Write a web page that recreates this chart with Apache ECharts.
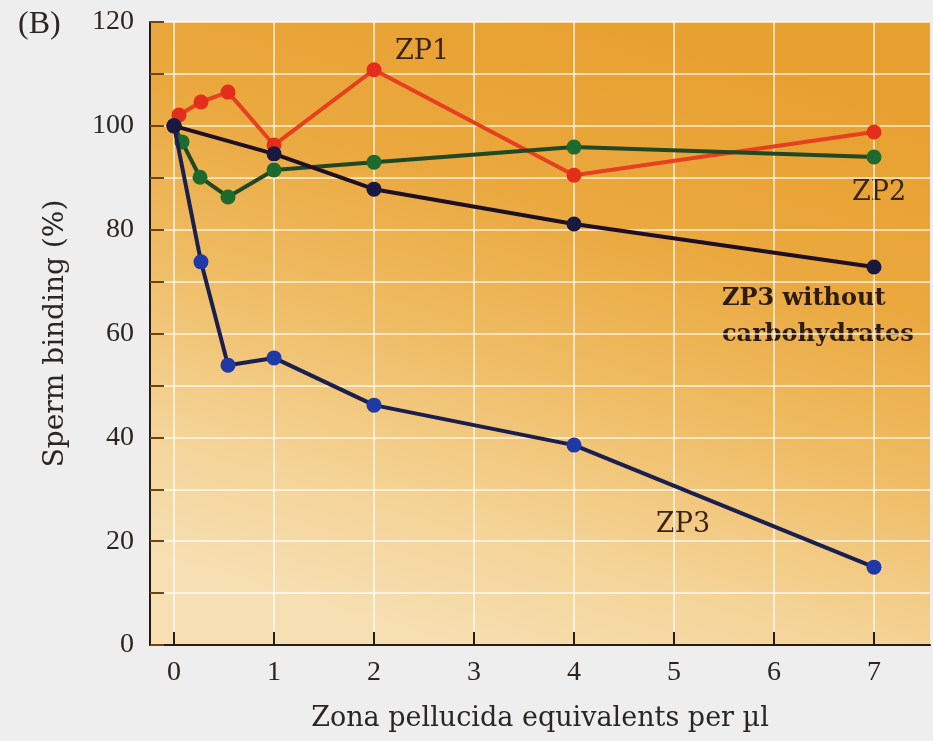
<!DOCTYPE html>
<html>
<head>
<meta charset="utf-8">
<script src="https://cdn.jsdelivr.net/npm/echarts@6/dist/echarts.min.js"></script>
<style>
  html, body { margin: 0; padding: 0; background: #eeeeee; }
  #chart { width: 933px; height: 741px; }
</style>
</head>
<body>
<div id="chart"></div>
<script>
// Zona pellucida equivalents per µl (x) and sperm binding in % (y)
const zp1X = [0, 0.05, 0.27, 0.54, 1, 2, 4, 7];
const zp1Y = [100, 102.1, 104.6, 106.5, 96.3, 110.8, 90.5, 98.8];

const zp2X = [0, 0.08, 0.26, 0.54, 1, 2, 4, 7];
const zp2Y = [100, 96.9, 90.1, 86.3, 91.5, 93.0, 95.9, 94.0];

const zp3X = [0, 0.27, 0.54, 1, 2, 4, 7];
const zp3Y = [100, 73.8, 53.9, 55.3, 46.2, 38.5, 15.0];

const zp3NoCarbX = [0, 1, 2, 4, 7];
const zp3NoCarbY = [100, 94.6, 87.8, 81.1, 72.8];

const xTicks = [0, 1, 2, 3, 4, 5, 6, 7];
const yLabelStep = 20;

const TICK_FONT = '"Liberation Serif", "DejaVu Serif", serif';
const TEXT_FONT = '"DejaVu Serif", "Liberation Serif", serif';
const AXIS_INK = '#2a1a10';
const TEXT_INK = '#2b2622';
const LABEL_INK = '#3a2418';
const GRID_WHITE = 'rgba(255,255,255,0.62)';

function pairs(xs, ys) {
  return xs.map((x, i) => [x, ys[i]]);
}

function lineSeries(name, xs, ys, lineColor, markColor, z) {
  return {
    name: name,
    type: 'line',
    data: pairs(xs, ys),
    symbol: 'circle',
    symbolSize: 15,
    z: z,
    lineStyle: { color: lineColor, width: 4 },
    itemStyle: { color: markColor },
    emphasis: { disabled: true },
    animation: false
  };
}

const chart = echarts.init(document.getElementById('chart'));

chart.setOption({
  backgroundColor: '#eeeeee',
  grid: {
    left: 150, right: 3, top: 22, bottom: 96,
    show: true,
    borderWidth: 0,
    backgroundColor: {
      type: 'linear', x: 0.62, y: 0, x2: 0.38, y2: 1,
      colorStops: [
        { offset: 0, color: '#e8a030' },
        { offset: 0.3, color: '#eaa83e' },
        { offset: 0.55, color: '#efbc64' },
        { offset: 0.8, color: '#f4d396' },
        { offset: 1, color: '#f6dfb2' }
      ]
    }
  },
  xAxis: {
    type: 'value',
    min: -0.24,
    max: 7.56,
    name: 'Zona pellucida equivalents per µl',
    nameLocation: 'middle',
    nameGap: 60,
    nameTextStyle: { fontFamily: TEXT_FONT, fontSize: 27, color: TEXT_INK },
    axisLine: { show: true, onZero: false, lineStyle: { color: AXIS_INK, width: 2 } },
    axisTick: {
      show: true, inside: true, length: 13,
      customValues: xTicks,
      lineStyle: { color: AXIS_INK, width: 2 }
    },
    axisLabel: {
      customValues: xTicks,
      fontFamily: TICK_FONT, fontSize: 28, color: TEXT_INK, margin: 14
    },
    splitLine: { show: true, lineStyle: { color: GRID_WHITE, width: 2 } }
  },
  yAxis: {
    type: 'value',
    min: 0,
    max: 120,
    interval: 10,
    name: 'Sperm binding (%)',
    nameLocation: 'middle',
    nameGap: 80,
    nameTextStyle: { fontFamily: TEXT_FONT, fontSize: 28, color: TEXT_INK },
    axisLine: { show: true, onZero: false, lineStyle: { color: AXIS_INK, width: 2 } },
    axisTick: {
      show: true, inside: true, length: 14,
      lineStyle: { color: '#6b4516', width: 2 }
    },
    axisLabel: {
      fontFamily: TICK_FONT, fontSize: 28, color: TEXT_INK, margin: 16,
      formatter: v => (v % yLabelStep === 0 ? String(v) : '')
    },
    splitLine: { show: true, lineStyle: { color: GRID_WHITE, width: 2 } }
  },
  graphic: [
    { type: 'text', left: 18, top: 9,
      style: { text: '(B)', font: '32px ' + TICK_FONT, fill: TEXT_INK } },
    { type: 'text', left: 395, top: 38,
      style: { text: 'ZP1', font: '27px ' + TEXT_FONT, fill: LABEL_INK } },
    { type: 'text', left: 852, top: 179,
      style: { text: 'ZP2', font: '27px ' + TEXT_FONT, fill: LABEL_INK } },
    { type: 'text', left: 722, top: 281,
      style: { text: 'ZP3 without\ncarbohydrates', font: 'bold 24px ' + TEXT_FONT,
               lineHeight: 36, fill: '#2e1c14' } },
    { type: 'text', left: 656, top: 511,
      style: { text: 'ZP3', font: '27px ' + TEXT_FONT, fill: LABEL_INK } }
  ],
  series: [
    lineSeries('ZP1', zp1X, zp1Y, '#e5401f', '#e42e1c', 2),
    lineSeries('ZP2', zp2X, zp2Y, '#1f4824', '#1d6a2e', 3),
    lineSeries('ZP3', zp3X, zp3Y, '#1b1f4e', '#1f3aa6', 4),
    lineSeries('ZP3 without carbohydrates', zp3NoCarbX, zp3NoCarbY, '#1e1020', '#1b1840', 5)
  ]
});
</script>
</body>
</html>
